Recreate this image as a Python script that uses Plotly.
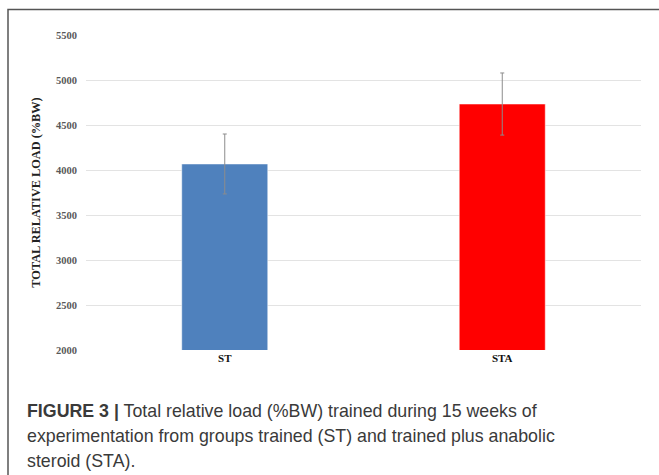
import plotly.graph_objects as go

# Group means and standard deviations of total relative load (%BW)
groups = ["ST", "STA"]
means = [4067, 4733]
sds = [333, 345]
bar_colors = ["#4f81bd", "#ff0000"]
y_ticks = [2000, 2500, 3000, 3500, 4000, 4500, 5000, 5500]

caption_lines = [
    "<b>FIGURE 3 |</b> Total relative load (%BW) trained during 15 weeks of",
    "experimentation from groups trained (ST) and trained plus anabolic",
    "steroid (STA).",
]

W, H = 659, 475
L, R, T, B = 86, 18, 35, 125
pw, ph = W - L - R, H - T - B


def px_x(p):
    return (p - L) / pw


def px_y(p):
    return (H - B - p) / ph


fig = go.Figure()
fig.add_trace(go.Bar(
    x=groups,
    y=means,
    marker=dict(color=bar_colors, line=dict(color="rgba(255,255,255,0.5)", width=1)),
    error_y=dict(type="data", array=sds, visible=True, color="#8c8c8c",
                 thickness=1, width=2),
))

fig.update_layout(
    width=W, height=H,
    margin=dict(l=L, r=R, t=T, b=B),
    paper_bgcolor="white",
    plot_bgcolor="white",
    showlegend=False,
    bargap=0.69,
    font=dict(family="Liberation Serif"),
    xaxis=dict(
        showgrid=False,
        showline=False,
        ticks="",
        tickfont=dict(family="Liberation Serif", size=11, color="#111111", weight="bold"),
    ),
    yaxis=dict(
        range=[2000, 5500],
        tickvals=y_ticks,
        showgrid=True,
        gridcolor="#e3e3e3",
        gridwidth=1,
        zeroline=False,
        showline=False,
        ticks="",
        ticklabelstandoff=8,
        tickfont=dict(family="Liberation Serif", size=10.5, color="#595959", weight="bold"),
        title=dict(
            text="TOTAL RELATIVE LOAD (%BW)",
            font=dict(family="Liberation Serif", size=12.3, color="#222222", weight="bold"),
            standoff=12,
        ),
    ),
)

# Frame around the figure panel
fig.add_shape(type="path", xref="paper", yref="paper",
              path=f"M {px_x(8)} {px_y(476)} L {px_x(8)} {px_y(9.5)} L {px_x(660)} {px_y(9.5)}",
              line=dict(color="#555555", width=1.5))

# Caption
for i, line in enumerate(caption_lines):
    fig.add_annotation(
        xref="paper", yref="paper",
        x=px_x(25), y=px_y(411 + 25 * i),
        xanchor="left", yanchor="middle",
        text=line, showarrow=False,
        font=dict(family="Liberation Sans", size=17.8, color="#3a3a3a"),
        align="left",
    )

fig.write_html("out.html")
